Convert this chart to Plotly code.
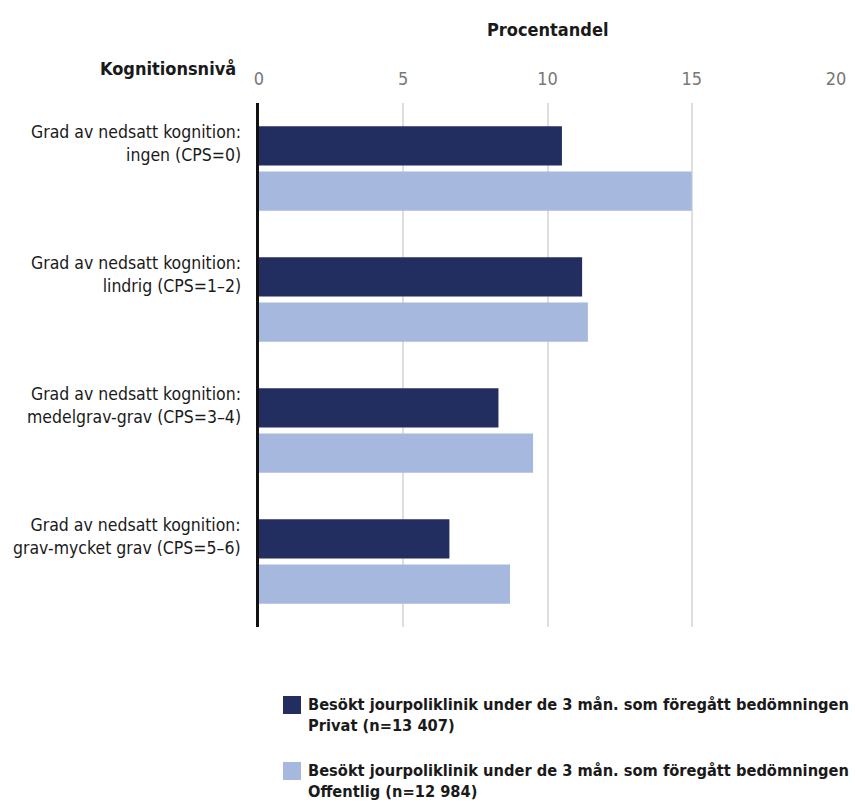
import plotly.graph_objects as go

# Cognition levels (top to bottom) and share (%) visiting an emergency clinic
categories = [
    "Grad av nedsatt kognition:<br>ingen (CPS=0)",
    "Grad av nedsatt kognition:<br>lindrig (CPS=1–2)",
    "Grad av nedsatt kognition:<br>medelgrav-grav (CPS=3–4)",
    "Grad av nedsatt kognition:<br>grav-mycket grav (CPS=5–6)",
]
privat = [10.5, 11.2, 8.3, 6.6]
offentlig = [15.0, 11.4, 9.5, 8.7]

series_names = [
    "Besökt jourpoliklinik under de 3 mån. som föregått bedömningen<br>Privat (n=13 407)",
    "Besökt jourpoliklinik under de 3 mån. som föregått bedömningen<br>Offentlig (n=12 984)",
]
series_values = [privat, offentlig]
series_colors = ["#222d60", "#a7b8df"]

x_ticks = [0, 5, 10, 15, 20]

FONT = "DejaVu Sans Condensed, Liberation Sans Narrow, sans-serif"

W, H = 856, 803
M_L, M_R, M_T, M_B = 259, 20, 103, 176
plot_h = H - M_T - M_B
plot_w = W - M_L - M_R

fig = go.Figure()
for name, vals, col in zip(series_names, series_values, series_colors):
    fig.add_trace(go.Bar(
        y=categories, x=vals, name=name, orientation="h",
        marker=dict(color=col, line=dict(width=0)),
        showlegend=False,
    ))

fig.update_layout(
    width=W, height=H,
    margin=dict(l=M_L, r=M_R, t=M_T, b=M_B, pad=0),
    paper_bgcolor="white", plot_bgcolor="white",
    barmode="group", bargap=0.31, bargroupgap=0.13,
    font=dict(family=FONT, size=18, color="#1a1a1a"),
    xaxis=dict(
        side="top", range=[0, 20], tickvals=x_ticks, automargin=False,
        showgrid=True, gridcolor="#dedede", gridwidth=2,
        zeroline=False, showline=False, ticks="",
        ticklabelstandoff=13,
        tickfont=dict(family=FONT, size=18, color="#777777"),
    ),
    yaxis=dict(
        autorange="reversed", showgrid=False, zeroline=False, automargin=False,
        showline=True, linecolor="#111111", linewidth=3,
        ticks="", showticklabels=False,
    ),
)

# Category labels, set level with the upper bar of each group
for cat in categories:
    fig.add_annotation(
        text=cat, xref="paper", yref="y", x=0, y=cat,
        xanchor="right", yanchor="middle", align="right",
        xshift=-16, yshift=25, showarrow=False,
        font=dict(family=FONT, size=17.5, color="#1a1a1a"),
    )

# Axis titles
fig.add_annotation(
    text="<b>Procentandel</b>", xref="paper", yref="paper",
    x=0.5, y=1 + (M_T - 30) / plot_h, xanchor="center", yanchor="middle",
    showarrow=False, font=dict(family=FONT, size=18, color="#1a1a1a"),
)
fig.add_annotation(
    text="<b>Kognitionsnivå</b>", xref="paper", yref="paper",
    x=(238 - M_L) / plot_w, y=1 + (M_T - 68) / plot_h,
    xanchor="right", yanchor="middle",
    showarrow=False, font=dict(family=FONT, size=18, color="#1a1a1a"),
)

# Legend: coloured squares with two-line labels below the plot
legend_tops = [696, 762]
for name, col, top in zip(series_names, series_colors, legend_tops):
    x0 = (283 - M_L) / plot_w
    x1 = (301 - M_L) / plot_w
    y0 = (H - M_B - top) / plot_h
    y1 = (H - M_B - top - 18) / plot_h
    fig.add_shape(type="rect", xref="paper", yref="paper",
                  x0=x0, x1=x1, y0=y1, y1=y0,
                  fillcolor=col, line=dict(width=0))
    fig.add_annotation(
        text="<b>" + name + "</b>", xref="paper", yref="paper",
        x=(306 - M_L) / plot_w, y=(H - M_B - top + 3) / plot_h,
        xanchor="left", yanchor="top", align="left",
        showarrow=False, font=dict(family=FONT, size=16.3, color="#1a1a1a"),
    )

fig.write_html("out.html")
